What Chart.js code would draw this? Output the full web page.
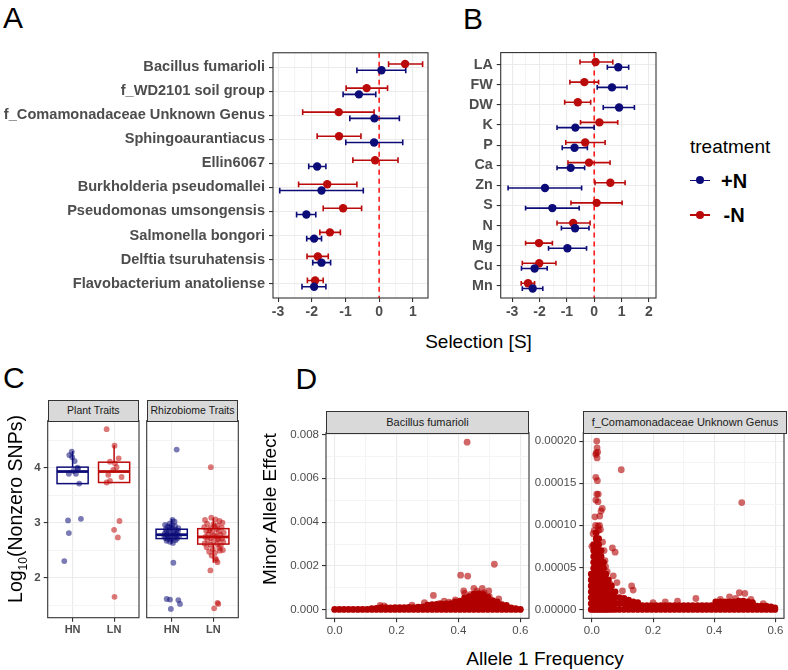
<!DOCTYPE html>
<html>
<head>
<meta charset="utf-8">
<script src="https://cdn.jsdelivr.net/npm/chart.js@4.4.1/dist/chart.umd.min.js"></script>
<style>
  body { margin: 0; width: 788px; height: 670px; position: relative; background: #fff; overflow: hidden;
         font-family: 'Liberation Sans', Arial, sans-serif; }
  canvas, .t, .strip, .key { position: absolute; }
  .t { white-space: nowrap; line-height: 1; color: #000; }
  .rot { width: 260px; height: 24px; line-height: 24px; text-align: center; transform: rotate(-90deg); font-size: 19px; }
  .strip { background: #d9d9d9; border: 1px solid #333; box-sizing: border-box; color: #1a1a1a; text-align: center; }
</style>
</head>
<body>
<div class="t" style="left:3px;top:3px;font-size:30px">A</div>
<div class="t" style="left:463px;top:4.4px;font-size:30px">B</div>
<div class="t" style="left:3px;top:363px;font-size:30px">C</div>
<div class="t" style="left:295.5px;top:364px;font-size:30px">D</div>

<canvas id="genusChart" width="438" height="288" style="left:0;top:40px"></canvas>
<canvas id="traitChart" width="226" height="288" style="left:440px;top:40px"></canvas>
<div class="t" style="left:378.5px;top:331.5px;width:200px;text-align:center;font-size:19px">Selection [S]</div>

<div class="t" style="left:690px;top:137px;font-size:19px">treatment</div>
<div class="key" style="left:690px;top:179.5px;width:20px;height:1.6px;background:#0c0c78"></div>
<div class="key" style="left:696px;top:176.3px;width:8px;height:8px;border-radius:50%;background:#0c0c78"></div>
<div class="t" style="left:721px;top:171.4px;font-size:20px;font-weight:bold">+N</div>
<div class="key" style="left:690px;top:214px;width:20px;height:1.6px;background:#bb0a0a"></div>
<div class="key" style="left:696px;top:210.7px;width:8px;height:8px;border-radius:50%;background:#bb0a0a"></div>
<div class="t" style="left:723.5px;top:204.8px;font-size:20px;font-weight:bold">-N</div>

<canvas id="plantChart" width="149" height="240" style="left:0;top:410px"></canvas>
<canvas id="rhizoChart" width="108" height="240" style="left:140px;top:410px"></canvas>
<div class="strip" style="left:47.7px;top:400px;width:91.3px;height:21.5px;line-height:19.5px;font-size:10.5px">Plant Traits</div>
<div class="strip" style="left:146.7px;top:400px;width:91.6px;height:21.5px;line-height:19.5px;font-size:10.5px">Rhizobiome Traits</div>
<div class="t rot" style="left:-114.7px;top:497px;font-size:19.5px">Log<sub style="font-size:12px">10</sub>(Nonzero SNPs)</div>

<canvas id="bacChart" width="254" height="220" style="left:285px;top:420px"></canvas>
<canvas id="comChart" width="256" height="220" style="left:532px;top:420px"></canvas>
<div class="strip" style="left:326px;top:411px;width:203px;height:22.5px;line-height:20.5px;font-size:11px">Bacillus fumarioli</div>
<div class="strip" style="left:583.3px;top:411px;width:203.4px;height:22.5px;line-height:20.5px;font-size:11px">f_Comamonadaceae Unknown Genus</div>
<div class="t rot" style="left:140px;top:497px">Minor Allele Effect</div>
<div class="t" style="left:445px;top:648.5px;width:200px;text-align:center;font-size:19px">Allele 1 Frequency</div>

<script>
// ---- data ----
const genera = ['Bacillus fumarioli', 'f_WD2101 soil group', 'f_Comamonadaceae Unknown Genus', 'Sphingoaurantiacus',
    'Ellin6067', 'Burkholderia pseudomallei', 'Pseudomonas umsongensis', 'Salmonella bongori',
    'Delftia tsuruhatensis', 'Flavobacterium anatoliense'];
const genusHN = [0.07, -0.60, -0.14, -0.15, -1.84, -1.71, -2.16, -1.93, -1.71, -1.93];
const genusHNLow = [-0.66, -1.07, -0.87, -0.99, -2.09, -2.95, -2.45, -2.15, -1.97, -2.29];
const genusHNHigh = [0.79, -0.10, 0.60, 0.70, -1.58, -0.47, -1.88, -1.71, -1.44, -1.58];
const genusLN = [0.77, -0.37, -1.20, -1.19, -0.12, -1.54, -1.07, -1.46, -1.82, -1.90];
const genusLNLow = [0.28, -0.98, -2.27, -1.84, -0.78, -2.39, -1.66, -1.76, -2.14, -2.13];
const genusLNHigh = [1.29, 0.25, -0.15, -0.54, 0.56, -0.66, -0.52, -1.15, -1.51, -1.66];

const traits = ['LA', 'FW', 'DW', 'K', 'P', 'Ca', 'Zn', 'S', 'N', 'Mg', 'Cu', 'Mn'];
const traitHN = [0.88, 0.65, 0.91, -0.69, -0.72, -0.86, -1.80, -1.53, -0.70, -0.98, -2.18, -2.25];
const traitHNLow = [0.48, 0.11, 0.33, -1.36, -1.17, -1.36, -3.15, -2.51, -1.20, -1.67, -2.66, -2.63];
const traitHNHigh = [1.26, 1.20, 1.47, 0.00, -0.25, -0.35, -0.46, -0.55, -0.19, -0.28, -1.72, -1.88];
const traitLN = [0.05, -0.36, -0.60, 0.19, -0.33, -0.19, 0.59, 0.09, -0.77, -2.02, -2.01, -2.42];
const traitLNLow = [-0.52, -0.89, -1.08, -0.50, -1.04, -0.96, 0.03, -0.85, -1.36, -2.51, -2.63, -2.67];
const traitLNHigh = [0.68, 0.16, -0.13, 0.86, 0.40, 0.58, 1.13, 1.02, -0.15, -1.53, -1.40, -2.18];

const genusTicks = [-3, -2.5, -2, -1.5, -1, -0.5, 0, 0.5, 1];
const traitTicks = [-3, -2.5, -2, -1.5, -1, -0.5, 0, 0.5, 1, 1.5, 2];

// panel C: [lo whisker, q1, median, q3, hi whisker] and jittered points [x, log10 SNPs]
const groups = ['HN', 'LN'];
const snpTicks = [1.5, 2, 2.5, 3, 3.5, 4, 4.5];
const plantHNBox = [3.71, 3.71, 3.93, 4.01, 4.30];
const plantLNBox = [3.73, 3.73, 3.93, 4.10, 4.41];
const rhizoHNBox = [2.62, 2.71, 2.78, 2.88, 3.07];
const rhizoLNBox = [2.27, 2.61, 2.74, 2.89, 3.09];
const plantHNPts = [[0.98, 4.29], [0.92, 4.23], [0.99, 4.19], [1.05, 4.12], [1.12, 4.00], [0.91, 3.89], [1.08, 3.89],
    [1.02, 3.94], [1.13, 3.98], [1.16, 3.71], [0.89, 3.04], [1.20, 3.07], [0.91, 2.81], [0.80, 2.30]];
const plantLNPts = [[1.82, 4.70], [2.01, 4.40], [2.11, 4.17], [1.90, 4.11], [2.02, 4.08], [2.06, 4.01], [1.98, 3.96],
    [1.86, 3.87], [2.18, 3.83], [1.90, 3.76], [1.82, 3.73], [2.13, 3.03], [2.00, 2.87], [2.09, 2.73], [2.01, 1.65]];
const rhizoHNPts = [[0.84, 2.96], [0.90, 2.93], [0.95, 2.98], [1.02, 3.05], [1.07, 3.02], [0.86, 2.88], [0.93, 2.86],
    [1.00, 2.90], [1.10, 2.87], [1.15, 2.85], [0.83, 2.80], [0.89, 2.78], [0.97, 2.82], [1.04, 2.79], [1.12, 2.81],
    [1.18, 2.76], [0.85, 2.72], [0.92, 2.74], [0.99, 2.70], [1.06, 2.73], [1.13, 2.71], [0.88, 2.67], [0.96, 2.65],
    [1.03, 2.63], [1.09, 2.68], [0.82, 2.76], [1.16, 2.90], [0.94, 2.92], [1.01, 2.95], [1.08, 2.94], [0.87, 2.83],
    [1.11, 2.77], [0.98, 2.76], [0.91, 2.70], [1.05, 2.84], [1.12, 4.33], [1.04, 2.27], [0.88, 1.61], [0.96, 1.60],
    [1.16, 1.59], [1.20, 1.52], [0.98, 1.43]];
const rhizoLNPts = [[1.80, 3.05], [1.95, 3.09], [2.05, 3.06], [2.15, 3.03], [2.22, 3.00], [1.85, 2.98], [2.00, 2.97],
    [2.10, 2.95], [1.78, 2.92], [1.92, 2.90], [2.08, 2.88], [2.20, 2.91], [1.83, 2.85], [1.97, 2.83], [2.13, 2.84],
    [2.25, 2.82], [1.88, 2.79], [2.02, 2.77], [2.17, 2.78], [1.81, 2.74], [1.94, 2.72], [2.06, 2.75], [2.21, 2.71],
    [1.86, 2.68], [2.00, 2.66], [2.12, 2.69], [2.24, 2.65], [1.79, 2.62], [1.93, 2.60], [2.09, 2.61], [2.18, 2.58],
    [1.84, 2.55], [1.99, 2.52], [2.14, 2.54], [2.23, 2.50], [1.90, 2.47], [2.04, 2.45], [2.16, 2.49], [1.96, 2.40],
    [2.07, 2.32], [2.11, 2.70], [1.91, 2.86], [2.03, 2.93], [1.94, 4.01], [1.93, 2.13], [2.10, 2.28], [2.05, 2.35],
    [2.10, 1.54], [2.12, 1.52], [2.02, 1.44]];

// panel D: dense cores as [allele freq, [effects...]] columns, plus the scattered points
const freqTicks = [0, 0.1, 0.2, 0.3, 0.4, 0.5, 0.6];
const bacTicks = [0, 0.001, 0.002, 0.003, 0.004, 0.005, 0.006, 0.007, 0.008];
const comTicks = [0, 0.000025, 0.00005, 0.000075, 0.0001, 0.000125, 0.00015, 0.000175, 0.0002];
const bacDenseCols = [
    [0.000, [0.00002]], [0.015, [0.00002]], [0.030, [0.00002]], [0.045, [0.00002]], [0.060, [0.00002]],
    [0.075, [0.00002]], [0.090, [0.00002]], [0.105, [0.00002]], [0.120, [0.00002, 0.00006]],
    [0.135, [0.00002, 0.00007]], [0.150, [0.00002, 0.0001]], [0.165, [0.00002, 0.0001]],
    [0.180, [0.00002, 0.00009]], [0.195, [0.00002, 0.0001]], [0.210, [0.00002, 0.0001]],
    [0.225, [0.00002, 0.0001]], [0.240, [0.00002, 0.00011]], [0.255, [0.00002, 0.0001]],
    [0.270, [0.00002, 0.00012]], [0.285, [0.00002, 0.00013]], [0.300, [0.00002, 0.00014, 0.00022]],
    [0.315, [0.00002, 0.00012, 0.00024]], [0.330, [0.00002, 0.00013, 0.00025]],
    [0.345, [0.00002, 0.00014, 0.00026]], [0.360, [0.00002, 0.00013, 0.00027]],
    [0.375, [0.00002, 0.00014, 0.00028]], [0.390, [0.00002, 0.00014, 0.00028, 0.00036]],
    [0.405, [0.00002, 0.00015, 0.00028, 0.0004]], [0.420, [0.00002, 0.00015, 0.0003, 0.00045, 0.00055]],
    [0.435, [0.00002, 0.00015, 0.0003, 0.00045, 0.0006]],
    [0.450, [0.00002, 0.00016, 0.0003, 0.00046, 0.00062, 0.00072]],
    [0.465, [0.00002, 0.00016, 0.0003, 0.00046, 0.00062, 0.00074]],
    [0.480, [0.00002, 0.00016, 0.0003, 0.00046, 0.0006, 0.0007]],
    [0.495, [0.00002, 0.00016, 0.0003, 0.00045, 0.00058]], [0.510, [0.00002, 0.00015, 0.0003, 0.00042]],
    [0.525, [0.00002, 0.00014, 0.00027, 0.00036]], [0.540, [0.00002, 0.00013, 0.00024]],
    [0.555, [0.00002, 0.00011, 0.0002]], [0.570, [0.00002, 0.00009]], [0.585, [0.00002, 0.00005]],
    [0.600, [0.00002]]];
const bacSparse = [[0.428, 0.00765], [0.516, 0.00208], [0.407, 0.00158], [0.43, 0.00154], [0.319, 0.00066],
    [0.417, 0.00087], [0.42, 0.00075], [0.45, 0.00098], [0.477, 0.00098], [0.498, 0.00086], [0.483, 0.00078],
    [0.39, 0.00045], [0.354, 0.0004], [0.29, 0.00033], [0.147, 0.0002], [0.16, 0.00018], [0.25, 0.00022],
    [0.46, 0.00085], [0.44, 0.0007], [0.5, 0.0006], [0.53, 0.0005], [0.34, 0.0003], [0.37, 0.00035]];
const comDenseCols = [
    [-0.002, [0, 7e-6, 14e-6, 21e-6, 28e-6, 35e-6, 42e-6]],
    [0.006, [0, 7e-6, 14e-6, 21e-6, 28e-6, 35e-6, 42e-6, 49e-6, 56e-6, 63e-6, 70e-6, 77e-6]],
    [0.014, [0, 7e-6, 14e-6, 21e-6, 28e-6, 35e-6, 42e-6, 49e-6, 56e-6, 63e-6, 70e-6, 77e-6, 84e-6, 91e-6]],
    [0.022, [0, 7e-6, 14e-6, 21e-6, 28e-6, 35e-6, 42e-6, 49e-6, 56e-6, 63e-6, 70e-6, 77e-6, 84e-6]],
    [0.030, [0, 7e-6, 14e-6, 21e-6, 28e-6, 35e-6, 42e-6, 49e-6, 56e-6, 63e-6, 70e-6]],
    [0.038, [0, 7e-6, 14e-6, 21e-6, 28e-6, 35e-6, 42e-6, 49e-6, 56e-6]],
    [0.046, [0, 7e-6, 14e-6, 21e-6, 28e-6, 35e-6, 42e-6]],
    [0.054, [0, 7e-6, 14e-6, 21e-6, 28e-6, 35e-6]],
    [0.064, [0, 7e-6, 14e-6, 21e-6, 28e-6]],
    [0.076, [0, 7e-6, 14e-6, 21e-6]],
    [0.090, [0, 7e-6, 14e-6]], [0.105, [0, 7e-6, 13e-6]], [0.120, [0, 6e-6, 11e-6]],
    [0.135, [0, 5e-6, 9e-6]], [0.150, [0, 4e-6, 8e-6]],
    [0.165, [0, 4.5e-6]], [0.180, [0, 4.5e-6]], [0.195, [0, 4.5e-6]], [0.210, [0, 4.5e-6]], [0.225, [0, 4.5e-6]],
    [0.240, [0, 4.5e-6]], [0.255, [0, 4.5e-6]], [0.270, [0, 4.5e-6]], [0.285, [0, 4.5e-6]], [0.300, [0, 4.5e-6]],
    [0.315, [0, 4.5e-6]], [0.330, [0, 4.5e-6]], [0.345, [0, 4.5e-6]], [0.360, [0, 4.5e-6]], [0.375, [0, 4.5e-6]],
    [0.390, [0, 4.5e-6]], [0.405, [0, 5e-6, 9e-6]], [0.420, [0, 5e-6, 9e-6]], [0.435, [0, 5e-6, 9e-6]],
    [0.450, [0, 5e-6, 9e-6]], [0.465, [0, 5e-6, 9e-6]], [0.480, [0, 5e-6, 10e-6]], [0.495, [0, 5e-6, 10e-6]],
    [0.510, [0, 5e-6, 9e-6]], [0.525, [0, 5e-6, 8e-6]], [0.540, [0, 4e-6]], [0.555, [0, 4e-6]],
    [0.570, [0, 4e-6]], [0.585, [0, 3e-6]], [0.598, [0, 2e-6]]];
const comSparse = [[0.016, 0.000200], [0.017, 0.000192], [0.014, 0.000186], [0.019, 0.000187], [0.013, 0.000184],
    [0.017, 0.00018], [0.096, 0.000166], [0.013, 0.000157], [0.018, 0.000153], [0.016, 0.000137], [0.021, 0.000137],
    [0.013, 0.00013], [0.02, 0.000128], [0.49, 0.000127], [0.034, 0.00012], [0.03, 0.000117], [0.026, 0.000111],
    [0.02, 0.000099], [0.008, 0.000094], [0.022, 0.000094], [0.006, 0.000075], [0.067, 0.000073], [0.076, 0.000068],
    [0.04, 0.00007], [0.043, 0.000058], [0.045, 0.000051], [0.082, 0.000032], [0.13, 0.000028], [0.135, 0.000023],
    [0.482, 0.00002], [0.5, 0.000019], [0.34, 0.000013], [0.28, 0.00001], [0.42, 0.000012], [0.45, 0.000015],
    [0.1, 0.000022], [0.07, 0.00004], [0.05, 0.000045], [0.035, 0.00008], [0.025, 0.0001], [0.012, 0.0001],
    [0.004, 0.00009], [0.0, 0.000075], [0.01, 0.00011], [0.028, 0.000095], [0.06, 0.00003], [0.2, 0.000008],
    [0.24, 0.000009], [0.47, 0.000013], [0.52, 0.000012], [0.56, 0.000007]];

// ---- styling ----
const NAVY = '#0c0c78', RED = '#bb0a0a';
const GRID = '#ebebeb', MINOR = '#f4f4f4', AXIS = '#333333', TXT = '#4d4d4d';
const DODGE = 0.13, CAP = 0.12, BOX_HALF = 0.375;

Chart.defaults.font.family = "'Liberation Sans', Arial, sans-serif";
Chart.defaults.animation = false;
Chart.defaults.responsive = false;
Chart.defaults.plugins.legend.display = false;
Chart.defaults.plugins.tooltip.enabled = false;

function isMajor(v, step) {
    return Math.abs(v / step - Math.round(v / step)) < 1e-6;
}

function axis(cfg) {
    return {
        type: 'linear', min: cfg.min, max: cfg.max, bounds: 'data', reverse: !!cfg.reverse,
        afterBuildTicks: s => { s.ticks = cfg.values.map(v => ({ value: v })); },
        afterFit: s => {
            if (cfg.w != null) s.width = cfg.w;
            if (cfg.h != null) s.height = cfg.h;
        },
        border: { display: false },
        grid: {
            color: c => isMajor(c.tick.value, cfg.step) ? GRID : MINOR,
            lineWidth: 1.1,
            tickLength: 4,
            tickColor: c => cfg.marks !== false && isMajor(c.tick.value, cfg.step) ? AXIS : 'rgba(0,0,0,0)',
            tickWidth: 1.1
        },
        ticks: {
            display: cfg.labels !== false, autoSkip: false, maxRotation: 0, minRotation: 0,
            padding: cfg.pad ?? 3, color: TXT, font: cfg.font,
            callback: v => isMajor(v, cfg.step) ? cfg.fmt(v) : ''
        }
    };
}

const borderPlugin = {
    id: 'panelBorder',
    afterDatasetsDraw(chart) {
        const { ctx, chartArea: a } = chart;
        ctx.save();
        ctx.strokeStyle = AXIS;
        ctx.lineWidth = 1.1;
        ctx.strokeRect(a.left, a.top, a.right - a.left, a.bottom - a.top);
        ctx.restore();
    }
};

const zeroLinePlugin = {
    id: 'zeroLine',
    beforeDatasetsDraw(chart) {
        const { ctx, chartArea: a, scales: { x } } = chart;
        const px = x.getPixelForValue(0);
        ctx.save();
        ctx.strokeStyle = '#ff1a1a';
        ctx.lineWidth = 1.6;
        ctx.setLineDash([5, 4]);
        ctx.beginPath();
        ctx.moveTo(px, a.top);
        ctx.lineTo(px, a.bottom);
        ctx.stroke();
        ctx.restore();
    }
};

const errorBarPlugin = {
    id: 'errorBars',
    beforeDatasetsDraw(chart) {
        const { ctx, scales: { x, y } } = chart;
        ctx.save();
        ctx.lineWidth = 1.6;
        chart.data.datasets.forEach(ds => {
            if (!ds.err) return;
            ctx.strokeStyle = ds.backgroundColor;
            ds.data.forEach((p, i) => {
                const py = y.getPixelForValue(p.y);
                const cap = Math.abs(y.getPixelForValue(p.y + CAP) - py);
                const x0 = x.getPixelForValue(ds.err[i][0]);
                const x1 = x.getPixelForValue(ds.err[i][1]);
                ctx.beginPath();
                ctx.moveTo(x0, py); ctx.lineTo(x1, py);
                ctx.moveTo(x0, py - cap); ctx.lineTo(x0, py + cap);
                ctx.moveTo(x1, py - cap); ctx.lineTo(x1, py + cap);
                ctx.stroke();
            });
        });
        ctx.restore();
    }
};

function boxPlugin(items) {
    return {
        id: 'boxes',
        beforeDatasetsDraw(chart) {
            const { ctx, scales: { x, y } } = chart;
            ctx.save();
            items.forEach(b => {
                const [lo, q1, med, q3, hi] = b.stats;
                const cx = x.getPixelForValue(b.x);
                const l = x.getPixelForValue(b.x - BOX_HALF), r = x.getPixelForValue(b.x + BOX_HALF);
                const y1 = y.getPixelForValue(q1), y3 = y.getPixelForValue(q3);
                ctx.strokeStyle = b.color;
                ctx.lineWidth = 1.5;
                ctx.beginPath();
                ctx.moveTo(cx, y3); ctx.lineTo(cx, y.getPixelForValue(hi));
                ctx.moveTo(cx, y1); ctx.lineTo(cx, y.getPixelForValue(lo));
                ctx.stroke();
                ctx.fillStyle = '#fff';
                ctx.fillRect(l, y3, r - l, y1 - y3);
                ctx.strokeRect(l, y3, r - l, y1 - y3);
                ctx.lineWidth = 2.8;
                ctx.beginPath();
                const ym = y.getPixelForValue(med);
                ctx.moveTo(l, ym); ctx.lineTo(r, ym);
                ctx.stroke();
            });
            ctx.restore();
        }
    };
}

// ---- panels A and B ----
function dotChart(id, names, hn, hnLo, hnHi, ln, lnLo, lnHi, xMin, xMax, xTicks, yWidth, labelSize) {
    const pts = (vals, off) => vals.map((v, i) => ({ x: v, y: i + off }));
    new Chart(document.getElementById(id), {
        type: 'scatter',
        data: {
            datasets: [
                { label: '+N', data: pts(hn, DODGE), err: hnLo.map((l, i) => [l, hnHi[i]]),
                  backgroundColor: NAVY, pointRadius: 4.2, borderWidth: 0 },
                { label: '-N', data: pts(ln, -DODGE), err: lnLo.map((l, i) => [l, lnHi[i]]),
                  backgroundColor: RED, pointRadius: 4.2, borderWidth: 0 }
            ]
        },
        options: {
            layout: { padding: { top: 10, right: 10, left: 0, bottom: 0 } },
            scales: {
                x: axis({ min: xMin, max: xMax, values: xTicks, step: 1, fmt: v => String(v),
                          font: { size: 14, weight: 'bold' }, h: 30, pad: 2 }),
                y: axis({ min: -0.6, max: names.length - 0.4, reverse: true, values: names.map((_, i) => i), step: 1,
                          fmt: v => names[v], font: { size: labelSize, weight: 'bold' }, w: yWidth, pad: 4 })
            }
        },
        plugins: [zeroLinePlugin, errorBarPlugin, borderPlugin]
    });
}

dotChart('genusChart', genera, genusHN, genusHNLow, genusHNHigh, genusLN, genusLNLow, genusLNHigh,
    -3.15, 1.45, genusTicks, 273, 14.6);
dotChart('traitChart', traits, traitHN, traitHNLow, traitHNHigh, traitLN, traitLNLow, traitLNHigh,
    -3.42, 2.26, traitTicks, 60.7, 14.3);

// ---- panel C ----
function snpChart(id, hnBox, lnBox, hnPts, lnPts, first, width) {
    const toXY = arr => arr.map(([x, y]) => ({ x, y }));
    new Chart(document.getElementById(id), {
        type: 'scatter',
        data: {
            datasets: [
                { data: toXY(hnPts), backgroundColor: 'rgba(12,12,120,0.55)', pointRadius: 2.9, borderWidth: 0 },
                { data: toXY(lnPts), backgroundColor: 'rgba(192,10,10,0.55)', pointRadius: 2.9, borderWidth: 0 }
            ]
        },
        options: {
            layout: { padding: { top: 10.7, right: width, left: 0, bottom: 0 } },
            scales: {
                x: axis({ min: 0.4, max: 2.6, values: [1, 2], step: 1, fmt: v => groups[v - 1],
                          font: { size: 11, weight: 'bold' }, h: 32.3, pad: 1.5 }),
                y: axis({ min: 1.27, max: 4.855, values: snpTicks, step: 1, fmt: v => String(v),
                          font: { size: 11.5, weight: 'bold' }, w: first ? 47.7 : 6.7,
                          labels: first, marks: first, pad: 3 })
            }
        },
        plugins: [boxPlugin([{ x: 1, stats: hnBox, color: NAVY }, { x: 2, stats: lnBox, color: RED }]), borderPlugin]
    });
}

snpChart('plantChart', plantHNBox, plantLNBox, plantHNPts, plantLNPts, true, 10);
snpChart('rhizoChart', rhizoHNBox, rhizoLNBox, rhizoHNPts, rhizoLNPts, false, 9.7);

// ---- panel D ----
function effectChart(id, denseCols, sparse, yMin, yMax, yTicks, yStep, digits, yWidth, padRight) {
    const dense = denseCols.flatMap(([x, ys]) => ys.map(y => ({ x, y })));
    new Chart(document.getElementById(id), {
        type: 'scatter',
        data: {
            datasets: [
                { data: sparse.map(([x, y]) => ({ x, y })), backgroundColor: 'rgba(179,0,0,0.6)',
                  pointRadius: 3.4, borderWidth: 0 },
                { data: dense, backgroundColor: '#b00000', pointRadius: 3.4, borderWidth: 0 }
            ]
        },
        options: {
            layout: { padding: { top: 12.7, right: padRight, left: 0, bottom: 0 } },
            scales: {
                x: axis({ min: -0.028, max: 0.628, values: freqTicks, step: 0.2, fmt: v => v.toFixed(1),
                          font: { size: 11.5 }, h: 21.7, pad: 2 }),
                y: axis({ min: yMin, max: yMax, values: yTicks, step: yStep, fmt: v => v.toFixed(digits),
                          font: { size: 11.5 }, w: yWidth, pad: 3 })
            }
        },
        plugins: [borderPlugin]
    });
}

effectChart('bacChart', bacDenseCols, bacSparse, -0.000385, 0.00808, bacTicks, 0.002, 3, 41, 10);
effectChart('comChart', comDenseCols, comSparse, -0.0000105, 0.00021, comTicks, 0.00005, 5, 51.3, 1.3);
</script>
</body>
</html>
